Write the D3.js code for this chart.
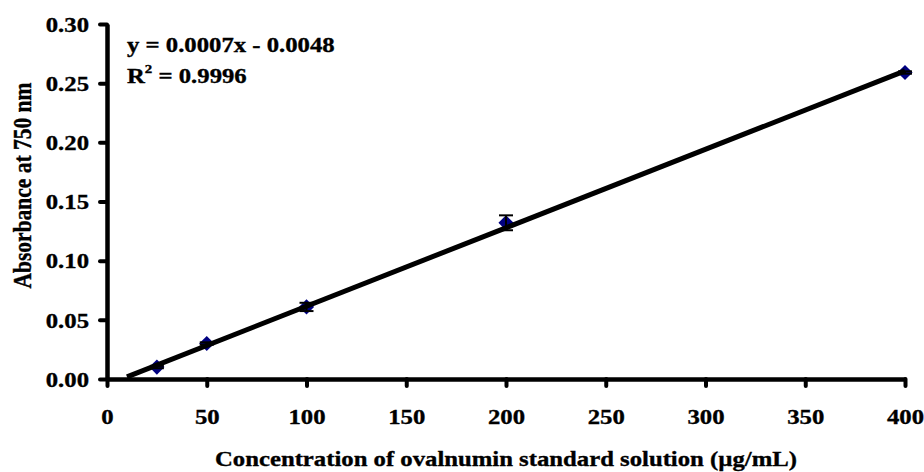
<!DOCTYPE html>
<html>
<head>
<meta charset="utf-8">
<script src="https://cdn.jsdelivr.net/npm/d3@7"></script>
<style>
  html, body { margin: 0; padding: 0; background: #fff; }
  svg { display: block; }
  text { font-family: "Liberation Serif", "Times New Roman", serif; font-weight: bold; fill: #000; stroke: #000; stroke-width: 0.35px; }
</style>
</head>
<body>
<svg id="chart" width="924" height="472"></svg>
<script>
// Standard curve: ovalbumin concentration vs absorbance
const concentrations = [25, 50, 100, 200, 400];
const absorbance = [0.0101, 0.030, 0.0609, 0.132, 0.259];
const errors = [0.001, 0.001, 0.0035, 0.0063, 0.001];
const xTicks = [0, 50, 100, 150, 200, 250, 300, 350, 400];
const yTicks = [0, 0.05, 0.10, 0.15, 0.20, 0.25, 0.30];
// Linear trendline coefficients and its drawn span
const trendSlope = 0.000663;
const trendIntercept = -0.0048;
const trendRange = [10, 400];
const equationLines = ["y = 0.0007x - 0.0048", "R", " = 0.9996"];

const svg = d3.select("#chart");
const sx = 1.15; // horizontal glyph stretch
const fs = 21.5;

const x = d3.scaleLinear().domain([0, 400]).range([107, 905]);
const y = d3.scaleLinear().domain([0, 0.30]).range([379, 24]);

// Axes
const xAxis = svg.append("g").attr("transform", `translate(0,${y(0)})`)
  .call(d3.axisBottom(x).tickValues(xTicks).tickSize(7).tickSizeOuter(0).tickPadding(0).tickFormat(d3.format("d")));
const yAxis = svg.append("g").attr("transform", `translate(${x(0)},0)`)
  .call(d3.axisLeft(y).tickValues(yTicks).tickSize(7).tickSizeOuter(0).tickFormat(d3.format(".2f")));

[xAxis, yAxis].forEach(g => {
  g.select(".domain").attr("stroke", "#000").attr("stroke-width", 4.5);
  g.selectAll(".tick line").attr("stroke", "#000").attr("stroke-width", 4).attr("stroke-linecap", "round");
  g.selectAll("text").attr("font-size", fs).attr("font-family", null).attr("fill", "#000");
});
xAxis.selectAll(".tick text").attr("dy", null).attr("y", 0)
  .attr("transform", `translate(0,45) scale(${sx},1)`).attr("text-anchor", "middle");
yAxis.selectAll(".tick text").attr("x", -18 / sx).attr("dy", "0.34em")
  .attr("transform", `scale(${sx},1)`);

// Axis titles
svg.append("text")
  .attr("transform", `translate(${(x(0) + x(400)) / 2},466) scale(${sx},1)`)
  .attr("text-anchor", "middle").attr("font-size", fs)
  .text("Concentration of ovalnumin standard solution (\u00b5g/mL)");
svg.append("text")
  .attr("transform", `translate(31,${(y(0) + y(0.30)) / 2 - 16}) scale(${sx},1) rotate(-90)`)
  .attr("text-anchor", "middle").attr("font-size", fs)
  .text("Absorbance at 750 nm");

// Data markers
const pts = concentrations.map((c, i) => ({ c, a: absorbance[i], e: errors[i] }));
svg.append("g").selectAll("path").data(pts).join("path")
  .attr("d", d3.symbol(d3.symbolSquare, 115))
  .attr("transform", d => `translate(${x(d.c)},${y(d.a)}) rotate(45)`)
  .attr("fill", "#000080");

// Error bars
const eb = svg.append("g").attr("stroke", "#000").attr("stroke-width", 2);
pts.forEach(d => {
  const cx = x(d.c), y1 = y(d.a + d.e), y2 = y(d.a - d.e);
  eb.append("line").attr("x1", cx).attr("x2", cx).attr("y1", y1).attr("y2", y2);
  eb.append("line").attr("x1", cx - 7).attr("x2", cx + 7).attr("y1", y1).attr("y2", y1);
  eb.append("line").attr("x1", cx - 7).attr("x2", cx + 7).attr("y1", y2).attr("y2", y2);
});

// Trendline
const trend = trendRange.map(c => ({ c, a: trendSlope * c + trendIntercept }));
svg.append("path").datum(trend)
  .attr("d", d3.line().x(d => x(d.c)).y(d => y(d.a)))
  .attr("stroke", "#000").attr("stroke-width", 5).attr("fill", "none");

// Equation
const eq = svg.append("g").attr("transform", `translate(127,0)`);
eq.append("text").attr("transform", `translate(0,52) scale(${sx},1)`)
  .attr("font-size", fs).text(equationLines[0]);
const r2 = eq.append("text").attr("transform", `translate(0,83) scale(${sx},1)`).attr("font-size", fs);
r2.append("tspan").text(equationLines[1]);
r2.append("tspan").attr("font-size", 13).attr("dy", -10).text("2");
r2.append("tspan").attr("dy", 10).text(equationLines[2]);
</script>
</body>
</html>
